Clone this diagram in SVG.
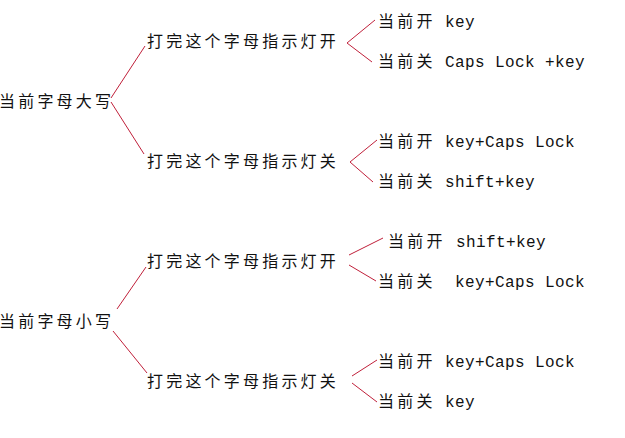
<svg xmlns="http://www.w3.org/2000/svg" width="625" height="438" viewBox="0 0 625 438">
<style>
text{font-size:16px;fill:#111;}
.cj{font-family:"Noto Sans CJK SC","Noto Sans CJK JP",sans-serif;letter-spacing:3.2px;}
.as{font-family:"Liberation Mono",monospace;letter-spacing:0.4px;}
.c line{stroke:#c0203a;stroke-width:1;fill:none;}
</style>
<rect width="625" height="438" fill="#fff"/>
<g class="c" id="connectors">
<line x1="111" y1="98" x2="145" y2="46"/>
<line x1="111" y1="102" x2="144" y2="154"/>
<line x1="347" y1="43" x2="375" y2="20"/>
<line x1="347" y1="43" x2="372" y2="62"/>
<line x1="350" y1="162" x2="377" y2="140"/>
<line x1="350" y1="162" x2="373" y2="182"/>
<line x1="117" y1="309" x2="146" y2="267"/>
<line x1="113" y1="331" x2="147" y2="373"/>
<line x1="349" y1="255" x2="383" y2="238"/>
<line x1="349" y1="265" x2="376" y2="281"/>
<line x1="352" y1="376" x2="377" y2="360"/>
<line x1="352" y1="383" x2="377" y2="402"/>
</g>
<g id="root1"><text class="cj" x="-1" y="107">当前字母大写</text></g>
<g id="mid1on"><text class="cj" x="147" y="47">打完这个字母指示灯开</text></g>
<g id="mid1off"><text class="cj" x="147" y="167">打完这个字母指示灯关</text></g>
<g id="leaf1"><text x="378" y="27"><tspan class="cj">当前开</tspan><tspan class="as" x="445">key</tspan></text></g>
<g id="leaf2"><text x="378" y="67"><tspan class="cj">当前关</tspan><tspan class="as" x="445">Caps Lock +key</tspan></text></g>
<g id="leaf3"><text x="378" y="147"><tspan class="cj">当前开</tspan><tspan class="as" x="445">key+Caps Lock</tspan></text></g>
<g id="leaf4"><text x="378" y="187"><tspan class="cj">当前关</tspan><tspan class="as" x="445">shift+key</tspan></text></g>
<g id="root2"><text class="cj" x="-1" y="327">当前字母小写</text></g>
<g id="mid2on"><text class="cj" x="147" y="267">打完这个字母指示灯开</text></g>
<g id="mid2off"><text class="cj" x="147" y="387">打完这个字母指示灯关</text></g>
<g id="leaf5"><text x="388" y="247"><tspan class="cj">当前开</tspan><tspan class="as" x="456">shift+key</tspan></text></g>
<g id="leaf6"><text x="378" y="287"><tspan class="cj">当前关</tspan><tspan class="as" x="455">key+Caps Lock</tspan></text></g>
<g id="leaf7"><text x="378" y="367"><tspan class="cj">当前开</tspan><tspan class="as" x="445">key+Caps Lock</tspan></text></g>
<g id="leaf8"><text x="378" y="407"><tspan class="cj">当前关</tspan><tspan class="as" x="445">key</tspan></text></g>
</svg>
